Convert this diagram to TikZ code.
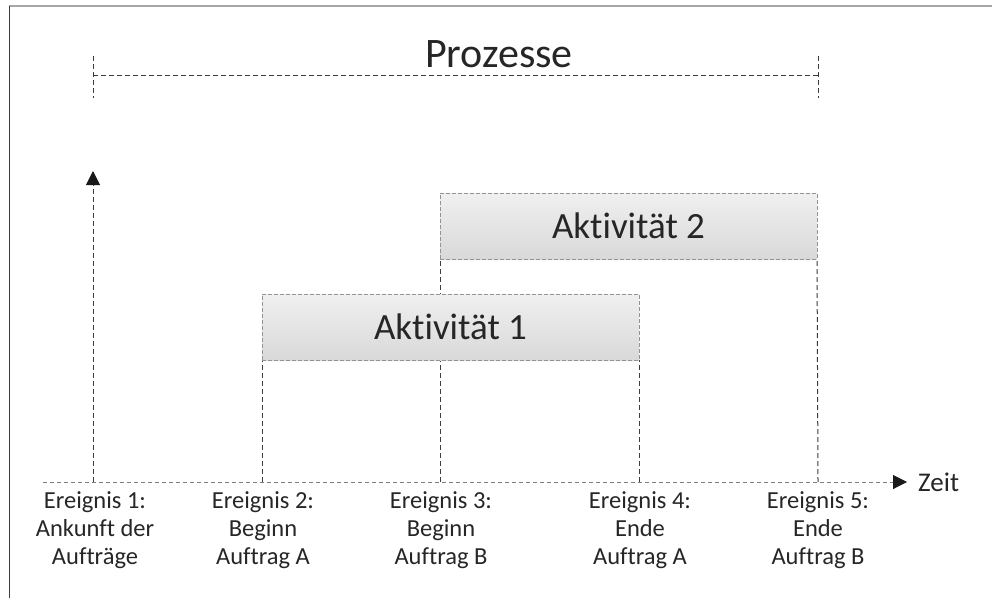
\documentclass[tikz,border=0pt]{standalone}
\usepackage{fontspec}
\setmainfont{Carlito}[Ligatures=NoCommon]
\usetikzlibrary{arrows.meta}
\definecolor{strich}{HTML}{3C3C3C}
\definecolor{schrift}{HTML}{262626}
\tikzset{
  strichl/.style={draw=strich,line width=1pt,dash pattern=on 5pt off 3pt},
  zeitachse/.style={draw=gray,line width=1pt,dash pattern=on 4pt off 3pt},
  aktiv/.style={draw=gray!85,line width=1pt,dash pattern=on 4pt off 2pt,
    top color=gray!12,bottom color=gray!30,minimum width=377pt,
    minimum height=66pt,outer sep=0pt,anchor=north west,text=schrift,
    font=\fontsize{37}{40}\selectfont},
  ereignis/.style={align=center,text=schrift,inner sep=0pt,
    font=\fontsize{24.5}{28}\selectfont},
}
\begin{document}
\begin{tikzpicture}[x=1pt,y=-1pt,>={Triangle[length=14pt,width=14pt,color=black!90]}]
\useasboundingbox (0,0) rectangle (992,598);
% Rahmen
\draw[gray!70,line width=2pt] (9,6)--(992,6);
\draw[strich,line width=1pt] (9,6)--(9,598);
% Prozesse
\node[anchor=base,text=schrift,font=\fontsize{42}{46}\selectfont] (proz) at (499,67) {Prozesse};
\draw[strichl] (93,56)--(93,98);
\draw[strichl] (818,56)--(818,98);
\draw[strichl] (93,75)--(818,75);
% Zeitachse
\coordinate (t0) at (43,482);
\coordinate (t1) at (93,482);
\coordinate (t2) at (262,482);
\coordinate (t3) at (440,482);
\coordinate (t4) at (639,482);
\coordinate (t5) at (818,482);
\coordinate (tend) at (907,482);
\coordinate (ytop) at (93,171);
\node[anchor=west,inner sep=0pt,text=schrift,font=\fontsize{27}{30}\selectfont] (zeit) at (918,482) {Zeit};
\draw[zeitachse,->] (t0)--(tend);
\draw[strichl,->] (t1)--(ytop);
% Aktivitaeten
\node[aktiv,draw=none,fill=none,text=white] (a1) at (262,294) {};
\node[aktiv,draw=none,fill=none,text=white] (a2) at (440,193) {};
\draw[strichl] (t2)--(a1.south west);
\draw[strichl] (t3)--(a2.south west);
\draw[strichl] (t4)--(a1.south east);
\draw[strichl] (t5)--(a2.south east);
\node[aktiv] at (a1.north west) {Aktivität 1};
\node[aktiv] at (a2.north west) {Aktivität 2};
% Ereignisse
\node[ereignis] (e1) at (95,530) {Ereignis 1:\\Ankunft der\\Aufträge};
\node[ereignis] (e2) at (263,530) {Ereignis 2:\\Beginn\\Auftrag A};
\node[ereignis] (e3) at (441,530) {Ereignis 3:\\Beginn\\Auftrag B};
\node[ereignis] (e4) at (640,530) {Ereignis 4:\\Ende\\Auftrag A};
\node[ereignis] (e5) at (818,530) {Ereignis 5:\\Ende\\Auftrag B};
\end{tikzpicture}
\end{document}
